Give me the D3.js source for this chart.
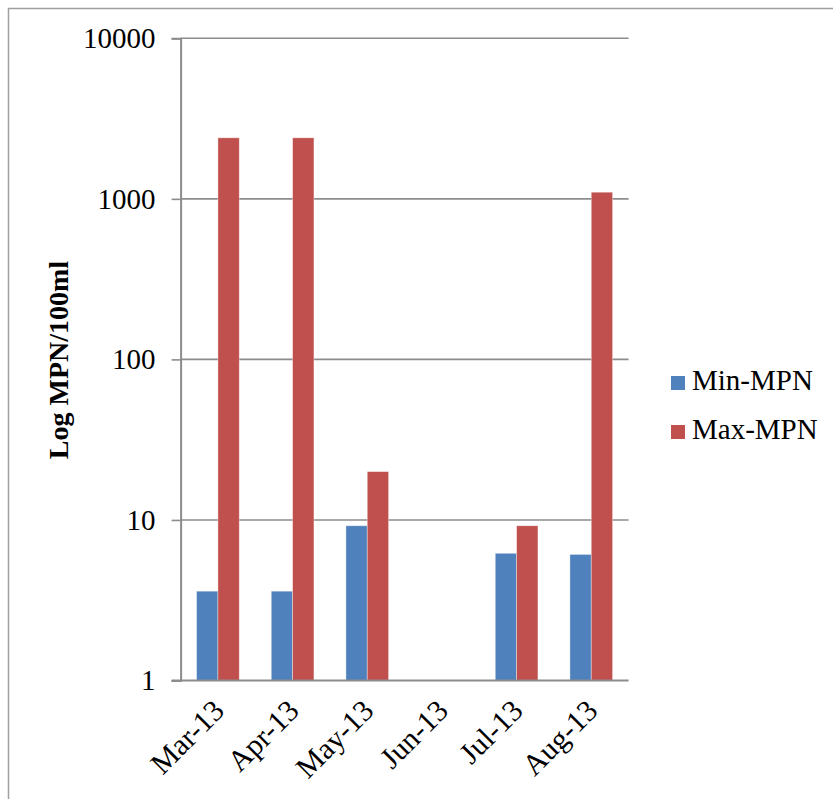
<!DOCTYPE html>
<html>
<head>
<meta charset="utf-8">
<script src="https://cdn.jsdelivr.net/npm/d3@7"></script>
<style>
  html, body { margin: 0; padding: 0; background: #fff; }
  svg { display: block; }
  text { font-family: "Liberation Serif", "Times New Roman", serif; fill: #000; }
</style>
</head>
<body>
<svg id="chart" width="833" height="799"></svg>
<script>
const categories = ["Mar-13", "Apr-13", "May-13", "Jun-13", "Jul-13", "Aug-13"];
const seriesNames = ["Min-MPN", "Max-MPN"];
const minMPN = [3.6, 3.6, 9.2, null, 6.2, 6.1];
const maxMPN = [2400, 2400, 20, null, 9.2, 1100];
const yTicks = [1, 10, 100, 1000, 10000];
const colors = ["#4F81BD", "#C0504D"];
const yTitle = "Log MPN/100ml";

const svg = d3.select("#chart");

// outer frame
svg.append("rect")
  .attr("x", 8.5).attr("y", 8.5)
  .attr("width", 1000).attr("height", 1000)
  .attr("fill", "none").attr("stroke", "#a0a0a0").attr("stroke-width", 1.5);

const plot = { left: 180.6, right: 628.6, top: 38.3, bottom: 680.5 };

const x0 = d3.scaleBand()
  .domain(categories)
  .range([plot.left, plot.right])
  .paddingInner(0.4286)
  .paddingOuter(0.2143);

const x1 = d3.scaleBand()
  .domain(seriesNames)
  .range([0, x0.bandwidth()]);

const y = d3.scaleLog()
  .domain([1, 10000])
  .range([plot.bottom, plot.top]);

// gridlines
svg.append("g")
  .selectAll("line")
  .data(yTicks.filter(t => t !== 1))
  .join("line")
  .attr("x1", plot.left).attr("x2", plot.right)
  .attr("y1", d => y(d)).attr("y2", d => y(d))
  .attr("stroke", "#8c8c8c").attr("stroke-width", 1.6);

// bars
const rows = categories.map((c, i) => ({ cat: c, vals: [minMPN[i], maxMPN[i]] }));
const groups = svg.append("g").selectAll("g")
  .data(rows)
  .join("g")
  .attr("transform", d => `translate(${x0(d.cat)},0)`);

groups.selectAll("rect")
  .data(d => d.vals.map((v, j) => ({ v, s: seriesNames[j], j })).filter(e => e.v != null))
  .join("rect")
  .attr("x", d => x1(d.s))
  .attr("width", x1.bandwidth())
  .attr("y", d => y(d.v))
  .attr("height", d => y(1) - y(d.v))
  .attr("fill", d => colors[d.j])
  .attr("stroke", "rgba(255,255,255,0.45)")
  .attr("stroke-width", 0.8);

// y axis
const yAxis = d3.axisLeft(y)
  .tickValues(yTicks)
  .tickFormat(d3.format("d"))
  .tickSize(9)
  .tickPadding(16);

const yg = svg.append("g")
  .attr("transform", `translate(${plot.left},0)`)
  .call(yAxis);
yg.select(".domain").attr("stroke", "#8c8c8c").attr("stroke-width", 2);
yg.selectAll(".tick line").attr("stroke", "#8c8c8c").attr("stroke-width", 1.6);
yg.selectAll(".tick text")
  .attr("font-family", "Liberation Serif")
  .attr("font-size", 29)
  .attr("fill", "#000");

// x axis
const xAxis = d3.axisBottom(x0).tickSize(0).tickPadding(0);
const xg = svg.append("g")
  .attr("transform", `translate(0,${plot.bottom})`)
  .call(xAxis);
xg.select(".domain")
  .attr("d", `M${plot.left - 9},0H${plot.right}`)
  .attr("stroke", "#8c8c8c").attr("stroke-width", 2.2);
xg.selectAll(".tick text")
  .attr("font-family", "Liberation Serif")
  .attr("font-size", 30)
  .attr("fill", "#000")
  .attr("text-anchor", "end")
  .attr("dy", 0)
  .attr("transform", "translate(8,32) rotate(-45)");

// y title
svg.append("text")
  .attr("transform", "translate(68,360) rotate(-90)")
  .attr("text-anchor", "middle")
  .attr("font-size", 28)
  .attr("font-weight", "bold")
  .text(yTitle);

// legend
const legend = svg.append("g").selectAll("g")
  .data(seriesNames)
  .join("g")
  .attr("transform", (d, i) => `translate(671,${376 + i * 49})`);
legend.append("rect")
  .attr("width", 14).attr("height", 14)
  .attr("fill", (d, i) => colors[i]);
legend.append("text")
  .attr("x", 21).attr("y", 14)
  .attr("font-size", 29)
  .text(d => d);
</script>
</body>
</html>
